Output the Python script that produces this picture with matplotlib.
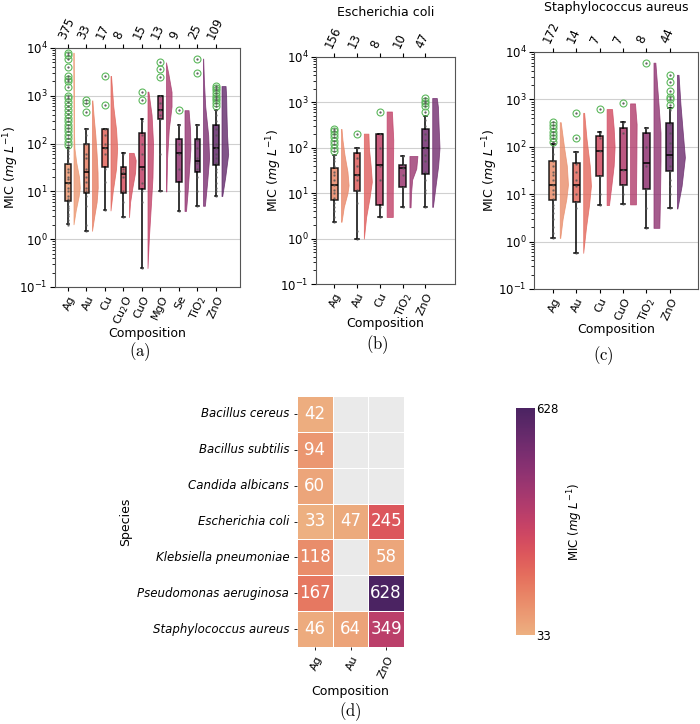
import numpy as np
import pandas as pd
import matplotlib
matplotlib.use("Agg")
import matplotlib.pyplot as plt
import seaborn as sns

plt.rcParams["axes.unicode_minus"] = False

# ---- panel (a): all species ----
a_groups = ["Ag", "Au", "Cu", "Cu$_2$O", "CuO", "MgO", "Se", "TiO$_2$", "ZnO"]
a_counts = [375, 33, 17, 8, 15, 13, 9, 25, 109]
# whislo, q1, median, q3, whishi
a_stats = [(2.05, 6.3, 15, 37.6, 82), (1.5, 9.3, 25, 100, 204), (4, 32.5, 82, 204, 204),
           (2.9, 9.3, 23.5, 32, 64), (0.25, 11.2, 32.5, 169, 330), (10, 320, 500, 1000, 1000),
           (3.9, 15.7, 64, 126, 250), (5, 25, 43, 126, 250), (8.1, 36, 81, 250, 500)]
a_fliers = [[8000, 7000, 6000, 4000, 2600, 2300, 2000, 1500, 1000, 900, 750, 600, 500, 420,
             350, 300, 250, 210, 180, 150, 130, 110, 95],
            [800, 720, 450], [2600, 630], [], [1220, 800], [5000, 3700, 2500], [500],
            [6000, 3000], [1600, 1450, 1300, 1150, 1000, 900, 800, 700, 600]]
a_points = [[2, 2.2, 2.5, 3, 3.3, 4, 4.5, 5, 6, 7, 8, 10, 12, 15, 18, 20, 25, 30, 40, 50, 60, 70, 80],
            [1.5, 2, 5, 8, 10, 12, 16, 20, 30, 50, 60, 100, 150, 200],
            [4, 16, 30, 60, 80, 100, 150, 200],
            [2.9, 6, 10, 20, 25, 30, 60],
            [0.25, 6, 10, 15, 30, 60, 100, 150, 300],
            [10, 60, 320, 400, 500, 700, 1000],
            [3.9, 10, 30, 60, 100, 250],
            [5, 10, 20, 30, 40, 50, 80, 120, 250],
            [8, 10, 12, 15, 20, 25, 30, 40, 50, 60, 80, 100, 150, 200, 300, 400, 500]]
a_vio_y = [[2.05, 4, 8, 12, 20, 40, 80, 150, 400, 1500, 8000],
           [1.5, 3, 6, 12, 25, 60, 150, 400, 800],
           [4, 10, 30, 80, 200, 600, 2600],
           [2.9, 6, 12, 25, 45, 64],
           [0.25, 1, 5, 20, 100, 400, 1220],
           [10, 50, 200, 600, 1200, 3000, 5000],
           [3.9, 10, 30, 80, 200, 500],
           [5, 15, 50, 150, 600, 2000, 6000],
           [8, 20, 60, 150, 400, 1000, 1600]]
a_vio_w = [[0.0, 0.12, 0.28, 0.34, 0.3, 0.15, 0.05, 0.03, 0.02, 0.01, 0.0],
           [0, 0.12, 0.25, 0.31, 0.3, 0.25, 0.18, 0.08, 0.02],
           [0, 0.12, 0.3, 0.36, 0.3, 0.15, 0.03],
           [0, 0.06, 0.18, 0.33, 0.36, 0.25],
           [0, 0.07, 0.18, 0.27, 0.3, 0.22, 0.05],
           [0.02, 0.06, 0.15, 0.3, 0.3, 0.12, 0.0],
           [0.08, 0.17, 0.25, 0.32, 0.3, 0.22],
           [0.1, 0.22, 0.33, 0.28, 0.12, 0.05, 0.01],
           [0.04, 0.2, 0.36, 0.3, 0.27, 0.25, 0.22]]

# ---- panel (b): Escherichia coli ----
b_groups = ["Ag", "Au", "Cu", "TiO$_2$", "ZnO"]
b_counts = [156, 13, 8, 10, 47]
b_stats = [(2.35, 7.1, 15, 35, 70), (1.0, 11.4, 25, 76, 100), (3.0, 5.5, 42, 200, 200),
           (4.9, 14, 36, 42, 66), (5.0, 27, 100, 260, 500)]
b_fliers = [[260, 230, 200, 170, 140, 120, 100, 85], [205], [630], [],
            [1250, 1100, 950, 830, 630]]
b_points = [[2.35, 3, 4, 5, 6, 8, 10, 12, 15, 20, 25, 30, 40, 50, 60, 70],
            [1.0, 1.5, 6, 12, 20, 25, 40, 60, 100],
            [3, 5, 20, 40, 100, 200],
            [4.9, 14, 25, 36, 42, 66],
            [5, 10, 12, 20, 30, 50, 70, 100, 150, 200, 300, 400]]
b_vio_y = [[2.35, 5, 10, 15, 30, 70, 150, 260],
           [1, 3, 8, 18, 40, 100, 205],
           [3, 10, 40, 150, 630],
           [4.9, 10, 20, 35, 66],
           [5, 15, 40, 100, 300, 800, 1250]]
b_vio_w = [[0.02, 0.12, 0.28, 0.33, 0.28, 0.15, 0.06, 0.02],
           [0, 0.1, 0.25, 0.35, 0.3, 0.22, 0.2],
           [0.27, 0.27, 0.28, 0.29, 0.23],
           [0.05, 0.07, 0.12, 0.3, 0.35],
           [0.03, 0.15, 0.26, 0.32, 0.28, 0.25, 0.2]]

# ---- panel (c): Staphylococcus aureus ----
c_groups = ["Ag", "Au", "Cu", "CuO", "TiO$_2$", "ZnO"]
c_counts = [172, 14, 7, 7, 8, 44]
c_stats = [(1.2, 7.7, 16, 51, 112), (0.58, 6.9, 15.5, 44.5, 76), (5.9, 24, 81, 168, 207),
           (6.1, 16, 32, 244, 327), (1.95, 13, 44.5, 191, 251), (5.0, 31, 66, 321, 647)]
c_fliers = [[330, 290, 250, 210, 180, 150, 125], [520, 157], [625], [823], [5950],
            [3300, 2300, 1500, 1100, 1000, 750]]
c_points = [[1.2, 1.5, 2, 3, 4, 5, 6, 8, 10, 12, 16, 20, 25, 30, 40, 50, 70, 100],
            [0.58, 5, 7, 10, 15, 20, 30, 44, 76],
            [5.9, 10, 24, 80, 150, 200],
            [6.1, 10, 16, 32, 200, 320],
            [1.95, 5, 13, 40, 100, 250],
            [5, 10, 15, 20, 31, 40, 60, 80, 120, 200, 300, 600]]
c_vio_y = [[1.2, 3, 8, 16, 40, 100, 330],
           [0.58, 2, 6, 15, 40, 150, 520],
           [5.9, 15, 40, 100, 250, 625],
           [6.1, 20, 60, 300, 823],
           [1.95, 10, 50, 200, 1000, 5950],
           [5, 15, 60, 200, 800, 3300]]
c_vio_w = [[0.02, 0.12, 0.28, 0.35, 0.3, 0.18, 0.04],
           [0, 0.12, 0.25, 0.33, 0.28, 0.14, 0.04],
           [0.1, 0.2, 0.3, 0.34, 0.3, 0.23],
           [0.25, 0.26, 0.27, 0.28, 0.21],
           [0.25, 0.28, 0.3, 0.3, 0.2, 0.08],
           [0.02, 0.2, 0.34, 0.25, 0.15, 0.07]]

# ---- panel (d): mean MIC per species / composition ----
d_species = ["Bacillus cereus", "Bacillus subtilis", "Candida albicans", "Escherichia coli",
             "Klebsiella pneumoniae", "Pseudomonas aeruginosa", "Staphylococcus aureus"]
d_comps = ["Ag", "Au", "ZnO"]
d_ag = [42, 94, 60, 33, 118, 167, 46]
d_au = [np.nan, np.nan, np.nan, 47, np.nan, np.nan, 64]
d_zno = [np.nan, np.nan, np.nan, 245, 58, 628, 349]

FS = 8.5
TFS = 8
YLAB = r"MIC ($mg\ L^{-1}$)"


def raincloud(ax, groups, counts, stats, fliers, points, vio_y, vio_w, xlim, xlab_y, ylab_x):
    n = len(groups)
    cols = sns.color_palette("flare", n)
    bstats = []
    for i in range(n):
        lo, q1, med, q3, hi = stats[i]
        bstats.append(dict(whislo=lo, q1=q1, med=med, q3=q3, whishi=hi, fliers=fliers[i]))
    bp = ax.bxp(bstats, positions=range(n), widths=0.3, capwidths=0.15, patch_artist=True,
                boxprops=dict(edgecolor="black", linewidth=1.1),
                medianprops=dict(color="black", linewidth=1.1),
                whiskerprops=dict(color="black", linewidth=1.1),
                capprops=dict(color="black", linewidth=1.1),
                flierprops=dict(marker="o", markerfacecolor="none", markeredgecolor="#5cb85c",
                                markersize=5, markeredgewidth=0.8), zorder=3)
    for i, patch in enumerate(bp["boxes"]):
        patch.set_facecolor(cols[i])
        patch.set_alpha(0.85)
    for i in range(n):
        ax.plot([i] * len(points[i]), points[i], ".", color="#555555", ms=1.5,
                alpha=0.7, zorder=4)
        ax.plot([i] * len(fliers[i]), fliers[i], ".", color="#555555", ms=1.2, zorder=4)
        base = i + 0.3
        yv = np.array(vio_y[i])
        wv = np.array(vio_w[i])
        ax.fill_betweenx(yv, base, base + wv, color=cols[i], alpha=0.8, lw=0.6,
                         edgecolor=cols[i], zorder=2)
    ax.set_yscale("log")
    ax.set_ylim(0.1, 1e4)
    ax.set_xlim(*xlim)
    ax.set_xticks(range(n))
    ax.set_xticklabels(groups, rotation=65, ha="right", rotation_mode="anchor", fontsize=TFS)
    ax.tick_params(axis="y", labelsize=FS, pad=2)
    ax.tick_params(axis="x", length=3, pad=2)
    ax.yaxis.grid(True, which="major", color="#d0d0d0", lw=0.8)
    ax.set_axisbelow(True)
    ax.set_xlabel("Composition", fontsize=FS + 0.5, va="center")
    ax.xaxis.set_label_coords(0.5, xlab_y)
    ax.set_ylabel(YLAB, fontsize=FS + 0.5, ha="center", va="center")
    ax.yaxis.set_label_coords(ylab_x, 0.5)
    for s in ax.spines.values():
        s.set_color("#555555")
    top = ax.twiny()
    top.set_xlim(*xlim)
    top.set_xticks(range(n))
    top.set_xticklabels([str(c) for c in counts], rotation=65, ha="left",
                        rotation_mode="anchor", fontsize=FS)
    top.tick_params(axis="x", length=3, pad=2)
    for s in top.spines.values():
        s.set_visible(False)


fig = plt.figure(figsize=(7, 7.24), dpi=100)
W, H = 700, 724


def rect(x0, y0, x1, y1):
    return [x0 / W, 1 - y1 / H, (x1 - x0) / W, (y1 - y0) / H]


ax_a = fig.add_axes(rect(55, 48, 240, 287))
ax_b = fig.add_axes(rect(316, 57, 455, 284))
ax_c = fig.add_axes(rect(534, 52, 698, 289))
ax_d = fig.add_axes(rect(297, 396, 404, 647))
cax = fig.add_axes(rect(516, 408, 535, 635))

raincloud(ax_a, a_groups, a_counts, a_stats, a_fliers, a_points, a_vio_y, a_vio_w,
          (-0.7, 9.3), -(334 - 287) / 239, -(55 - 11) / 185)
raincloud(ax_b, b_groups, b_counts, b_stats, b_fliers, b_points, b_vio_y, b_vio_w,
          (-0.8, 5.3), -(323 - 284) / 227, -(316 - 274) / 139)
raincloud(ax_c, c_groups, c_counts, c_stats, c_fliers, c_points, c_vio_y, c_vio_w,
          (-0.8, 6.2), -(330 - 289) / 237, -(534 - 490) / 164)

fig.text(386 / W, 1 - 13 / H, "Escherichia coli", ha="center", va="center", fontsize=FS + 0.5)
fig.text(616 / W, 1 - 7 / H, "Staphylococcus aureus", ha="center", va="center", fontsize=FS + 0.5)

# heatmap
df = pd.DataFrame({"Ag": d_ag, "Au": d_au, "ZnO": d_zno}, index=d_species)
ax_d.set_facecolor("#eaeaea")
sns.heatmap(df, ax=ax_d, cmap="flare", vmin=33, vmax=628, annot=True, fmt="g",
            annot_kws={"color": "white", "fontsize": 12}, linewidths=0.6, linecolor="white",
            cbar_ax=cax, cbar_kws={"ticks": [33, 628]})
ax_d.set_yticklabels(d_species, rotation=0, fontsize=FS, style="italic")
ax_d.set_xticklabels(d_comps, rotation=65, ha="right", rotation_mode="anchor", fontsize=TFS)
ax_d.tick_params(length=2, width=0.6)
ax_d.set_ylabel("Species", fontsize=FS + 0.5, labelpad=4)
ax_d.set_xlabel("Composition", fontsize=FS + 0.5, va="center")
ax_d.xaxis.set_label_coords(0.5, -(692 - 647) / 251)
cax.tick_params(labelsize=FS, length=0, pad=1)
cax.set_ylabel(YLAB, fontsize=FS, labelpad=5)

for x, y, lab in [(140, 352, "a"), (377, 345, "b"), (603, 356, "c"), (350, 712, "d")]:
    fig.text(x / W, 1 - y / H, r"$\mathrm{(%s)}$" % lab, ha="center", va="center",
             fontsize=12, math_fontfamily="cm")

fig.savefig("out.png", dpi=100)
